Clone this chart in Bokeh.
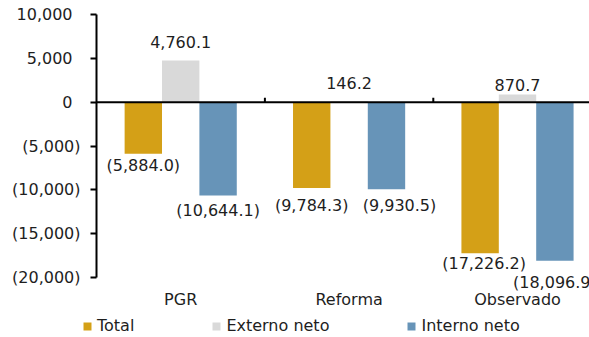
import numpy as np
from bokeh.plotting import figure
from bokeh.models import (Range1d, FixedTicker, ColumnDataSource, LabelSet,
                          Legend, LegendItem)
from bokeh.core.properties import value
from bokeh.embed import file_html
from bokeh.resources import INLINE

# ---- data ----
categories = ["PGR", "Reforma", "Observado"]
series_names = ["Total", "Externo neto", "Interno neto"]
total = [-5884.0, -9784.3, -17226.2]
externo = [4760.1, 146.2, 870.7]
interno = [-10644.1, -9930.5, -18096.9]
y_ticks = [10000, 5000, 0, -5000, -10000, -15000, -20000]
y_tick_labels = ["10,000", "5,000", "0", "(5,000)", "(10,000)", "(15,000)", "(20,000)"]

# ---- style ----
colors = ["#D4A017", "#D9D9D9", "#6794B8"]
FONT = "DejaVu Sans"
FS = "16px"
TXT = "#1e1e1e"
bar_w = 0.222
bar_shift = [-bar_w, 0.0, bar_w]
# label placement (screen px): dy = downward distance from bar end to label centre
label_dy = [[12, 18, 10], [-18, -18, -10], [15, 16, 22]]
label_dx = [[0, 0, 4], [0, 0, 0], [0, 13, 0]]

def fmt(v):
    return "({:,.1f})".format(abs(v)) if v < 0 else "{:,.1f}".format(v)

ymin, ymax = min(y_ticks), max(y_ticks)
# frame covers the whole canvas; axes are pinned at data positions
px_per_unit = 263.0 / (ymax - ymin)
cat_px = 168.4
p = figure(width=589, height=337, output_backend="svg", toolbar_location=None,
           x_range=Range1d(-96 / cat_px, 493 / cat_px),
           y_range=Range1d(ymax - 323 / px_per_unit, ymax + 14 / px_per_unit),
           min_border=0)
p.xgrid.visible = False
p.ygrid.visible = False
p.outline_line_color = None
p.background_fill_color = "white"

xs = np.arange(len(categories)) + 0.5
renderers = []
for i, (name, vals) in enumerate(zip(series_names, [total, externo, interno])):
    src = ColumnDataSource(dict(
        x=xs + bar_shift[i], top=vals,
        lab=[fmt(v) for v in vals],
        dy=[-d for d in label_dy[i]],
        dx=label_dx[i]))
    r = p.vbar(x="x", top="top", bottom=0, width=bar_w, source=src,
               fill_color=colors[i], line_color=None)
    renderers.append(r)
    ls = LabelSet(x="x", y="top", text="lab", source=src, x_offset="dx", y_offset="dy",
                  text_align="center", text_baseline="middle",
                  text_font=value(FONT), text_font_size=value(FS), text_color=TXT)
    p.add_layout(ls)

# zero line across the categories
p.segment(x0=[0], y0=[0], x1=[len(categories)], y1=[0], line_color="black", line_width=2)
# category boundary ticks on zero line
bounds = np.arange(1, len(categories))
p.segment(x0=bounds, y0=0, x1=bounds, y1=500, line_color="black", line_width=2)

# y axis pinned at x = 0
p.yaxis.fixed_location = 0
p.yaxis.bounds = (ymin, ymax)
p.yaxis.ticker = FixedTicker(ticks=y_ticks)
p.yaxis.major_label_overrides = {
    t: (lab if lab.startswith("(") else lab + "\u2002") for t, lab in zip(y_ticks, y_tick_labels)}
p.yaxis.axis_line_color = "black"
p.yaxis.axis_line_width = 2
p.yaxis.major_tick_line_color = "black"
p.yaxis.major_tick_line_width = 2
p.yaxis.major_tick_out = 6
p.yaxis.major_tick_in = 0
p.yaxis.minor_tick_line_color = None
p.yaxis.major_label_standoff = 10
p.yaxis.major_label_text_font = FONT
p.yaxis.major_label_text_font_size = FS
p.yaxis.major_label_text_color = TXT

# x axis (category labels) pinned at the bottom of the value scale
p.xaxis.fixed_location = ymin
p.xaxis.ticker = FixedTicker(ticks=list(xs))
p.xaxis.major_label_overrides = {float(x): c for x, c in zip(xs, categories)}
p.xaxis.axis_line_color = None
p.xaxis.major_tick_line_color = None
p.xaxis.minor_tick_line_color = None
p.xaxis.major_tick_out = 0
p.xaxis.major_label_standoff = 12
p.xaxis.major_label_text_font = FONT
p.xaxis.major_label_text_font_size = FS
p.xaxis.major_label_text_color = TXT

legend = Legend(items=[LegendItem(label=n, renderers=[r]) for n, r in zip(series_names, renderers)],
                location=(82, 2), orientation="horizontal",
                glyph_width=10, glyph_height=10, label_standoff=5, spacing=77,
                padding=0, margin=0, border_line_color=None, background_fill_alpha=0,
                label_text_font=FONT, label_text_font_size=FS, label_text_color=TXT)
p.add_layout(legend)

open("out.html", "w").write(file_html(p, INLINE))
